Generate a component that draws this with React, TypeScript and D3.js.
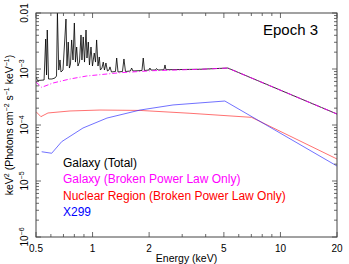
import React from 'react';
import { scaleLog, line } from 'd3';

// Galaxy total model (thermal lines + broken power law)
const totalEnergy = [
  0.5, 0.509, 0.552, 0.563, 0.569, 0.574, 0.583, 0.608, 0.631, 0.643, 0.65, 0.661,
  0.671, 0.679, 0.696, 0.722, 0.731, 0.742, 0.753, 0.763, 0.774, 0.787, 0.8, 0.811,
  0.823, 0.836, 0.852, 0.868, 0.878, 0.892, 0.906, 0.923, 0.934, 0.949, 0.963, 0.981,
  0.999, 1.021, 1.037, 1.051, 1.069, 1.086, 1.101, 1.122, 1.14, 1.157, 1.178, 1.2,
  1.223, 1.238, 1.261, 1.324, 1.344, 1.366, 1.443, 1.469, 1.497, 1.591, 1.614, 1.641,
  1.832, 1.861, 1.889, 1.996, 2.02, 2.045, 2.161, 2.19, 2.228, 2.399, 2.43, 2.458,
  3.73, 5.25, 20,
];
const totalFlux = [
  7.2e-4, 6.23e-4, 6.36e-4, 3.43e-3, 7.81e-4, 4.97e-3, 6.63e-4, 6.63e-4, 6.91e-4, 7.5e-4, 1.0e-2, 9.59e-4,
  1.45e-3, 8.84e-4, 9.59e-4, 7.81e-3, 1.13e-3, 3.03e-3, 1.04e-3, 1.23e-3, 3.3e-3, 1.45e-3, 6.63e-3, 1.33e-3,
  2.47e-3, 1.13e-3, 1.33e-3, 4.05e-3, 1.45e-3, 3.73e-3, 1.33e-3, 4.97e-3, 1.57e-3, 3.03e-3, 1.18e-3, 2.47e-3,
  1.13e-3, 1.93e-3, 1.33e-3, 3.3e-3, 1.13e-3, 1.64e-3, 9.59e-4, 1.04e-3, 1.33e-3, 9.59e-4, 1.28e-3, 9.21e-4,
  9.59e-4, 1.09e-3, 8.84e-4, 9.02e-4, 1.57e-3, 8.84e-4, 9.02e-4, 1.51e-3, 9.02e-4, 9.21e-4, 1.04e-3, 9.21e-4,
  9.4e-4, 1.57e-3, 9.4e-4, 9.59e-4, 1.04e-3, 9.59e-4, 9.59e-4, 1.02e-3, 9.59e-4, 9.72e-4, 1.18e-3, 9.72e-4,
  9.89e-4, 1.04e-3, 1.57e-4,
];

// Galaxy broken power law only
const galaxyBplEnergy = [0.5, 0.536, 0.616, 0.758, 0.93, 1.4, 2.1, 3.73, 5.25, 20];
const galaxyBplFlux = [5.86e-4, 4.71e-4, 5.62e-4, 6.63e-4, 7.5e-4, 8.59e-4, 9.33e-4, 9.89e-4, 1.04e-3, 1.57e-4];

// Nuclear region broken power law only
const nuclearEnergy = [0.5, 0.531, 0.579, 0.758, 1.095, 1.79, 3.3, 7.02, 20];
const nuclearFlux = [1.73e-4, 1.41e-4, 1.64e-4, 1.78e-4, 1.85e-4, 1.82e-4, 1.62e-4, 1.37e-4, 2.47e-5];

// X299
const x299Energy = [0.536, 0.606, 0.685, 0.889, 1.193, 1.79, 2.68, 5.06, 20];
const x299Flux = [3.33e-5, 3.13e-5, 5.04e-5, 8.83e-5, 1.33e-4, 1.85e-4, 2.28e-4, 2.68e-4, 1.85e-5];

const xLabelTicks = [0.5, 1, 2, 5, 10, 20];
const xMinorTicks = [0.6, 0.7, 0.8, 0.9, 3, 4, 6, 7, 8, 9];
const yDecades = [1e-6, 1e-5, 1e-4, 1e-3, 1e-2];
const yDecadeLabels = ['−6', '−5', '−4', '−3', '0.01'];
const legendLabels = [
  'Galaxy (Total)',
  'Galaxy (Broken Power Law Only)',
  'Nuclear Region (Broken Power Law Only)',
  'X299',
];
const legendColors = ['#000000', '#ff00ff', '#ff0000', '#0000ff'];

const FONT = '"Liberation Sans", Arial, Helvetica, sans-serif';

export default function App() {
  const W = 349;
  const H = 264;
  const left = 36;
  const right = 337;
  const top = 13;
  const bottom = 237;

  const x = scaleLog().domain([0.5, 20]).range([left, right]);
  const y = scaleLog().domain([1e-6, 1e-2]).range([bottom, top]);

  const path = (es: number[], vs: number[]) =>
    line<number>()
      .x((_, i) => x(es[i]))
      .y((v) => y(v))(vs) ?? '';

  const yMinor: number[] = [];
  yDecades.slice(0, -1).forEach((d) => {
    for (let k = 2; k <= 9; k++) yMinor.push(d * k);
  });

  const frame = '#444';

  return (
    <svg
      width={W}
      height={H}
      style={{ position: 'absolute', left: 0, top: 0, background: '#fff' }}
      fontFamily={FONT}
    >
      <defs>
        <clipPath id="plot">
          <rect x={left} y={top} width={right - left} height={bottom - top} />
        </clipPath>
      </defs>

      <g clipPath="url(#plot)" fill="none">
        <path d={path(totalEnergy, totalFlux)} stroke="#000" strokeWidth={0.8} />
        <path d={path(nuclearEnergy, nuclearFlux)} stroke="#ff2020" strokeWidth={0.8} strokeOpacity={0.8} />
        <path d={path(x299Energy, x299Flux)} stroke="#2020ff" strokeWidth={0.8} strokeOpacity={0.8} />
        <path
          d={path(galaxyBplEnergy, galaxyBplFlux)}
          stroke="#ff00ff"
          strokeWidth={0.9}
          strokeDasharray="5,2,1,2"
        />
      </g>

      {/* frame */}
      <rect x={left} y={top} width={right - left} height={bottom - top} fill="none" stroke={frame} strokeWidth={1} />

      {/* x ticks */}
      <g stroke={frame} strokeWidth={0.8}>
        {xLabelTicks.map((t) => (
          <g key={`xl${t}`}>
            <line x1={x(t)} x2={x(t)} y1={bottom} y2={bottom - 5} />
            <line x1={x(t)} x2={x(t)} y1={top} y2={top + 5} />
          </g>
        ))}
        {xMinorTicks.map((t) => (
          <g key={`xm${t}`}>
            <line x1={x(t)} x2={x(t)} y1={bottom} y2={bottom - 3} />
            <line x1={x(t)} x2={x(t)} y1={top} y2={top + 3} />
          </g>
        ))}
        {yDecades.map((t) => (
          <g key={`yd${t}`}>
            <line x1={left} x2={left + 5} y1={y(t)} y2={y(t)} />
            <line x1={right} x2={right - 5} y1={y(t)} y2={y(t)} />
          </g>
        ))}
        {yMinor.map((t) => (
          <g key={`ym${t}`}>
            <line x1={left} x2={left + 3} y1={y(t)} y2={y(t)} />
            <line x1={right} x2={right - 3} y1={y(t)} y2={y(t)} />
          </g>
        ))}
      </g>

      {/* x tick labels */}
      {xLabelTicks.map((t) => (
        <text key={`xt${t}`} x={x(t)} y={251.5} fontSize={10} textAnchor="middle" fill="#000">
          {t}
        </text>
      ))}
      <text x={(left + right) / 2} y={261.5} fontSize={10.5} textAnchor="middle" fill="#000">
        Energy (keV)
      </text>

      {/* y tick labels */}
      {yDecades.map((t, i) => (
        <text
          key={`yt${t}`}
          transform={`translate(28, ${y(t)}) rotate(-90)`}
          fontSize={10}
          textAnchor="middle"
          fill="#000"
        >
          {yDecadeLabels[i] === '0.01' ? (
            '0.01'
          ) : (
            <>
              10
              <tspan dy={-4} fontSize={7}>
                {yDecadeLabels[i]}
              </tspan>
            </>
          )}
        </text>
      ))}

      {/* y title */}
      <text
        transform={`translate(13, ${(top + bottom) / 2}) rotate(-90)`}
        fontSize={10.5}
        textAnchor="middle"
        fill="#000"
      >
        keV
        <tspan dy={-4} fontSize={7}>2</tspan>
        <tspan dy={4}> (Photons cm</tspan>
        <tspan dy={-4} fontSize={7}>−2</tspan>
        <tspan dy={4}> s</tspan>
        <tspan dy={-4} fontSize={7}>−1</tspan>
        <tspan dy={4}> keV</tspan>
        <tspan dy={-4} fontSize={7}>−1</tspan>
        <tspan dy={4}>)</tspan>
      </text>

      <text x={263} y={35} fontSize={15} fill="#000">
        Epoch 3
      </text>

      {legendLabels.map((l, i) => (
        <text key={l} x={63} y={167 + i * 16.3} fontSize={12} fill={legendColors[i]}>
          {l}
        </text>
      ))}
    </svg>
  );
}
